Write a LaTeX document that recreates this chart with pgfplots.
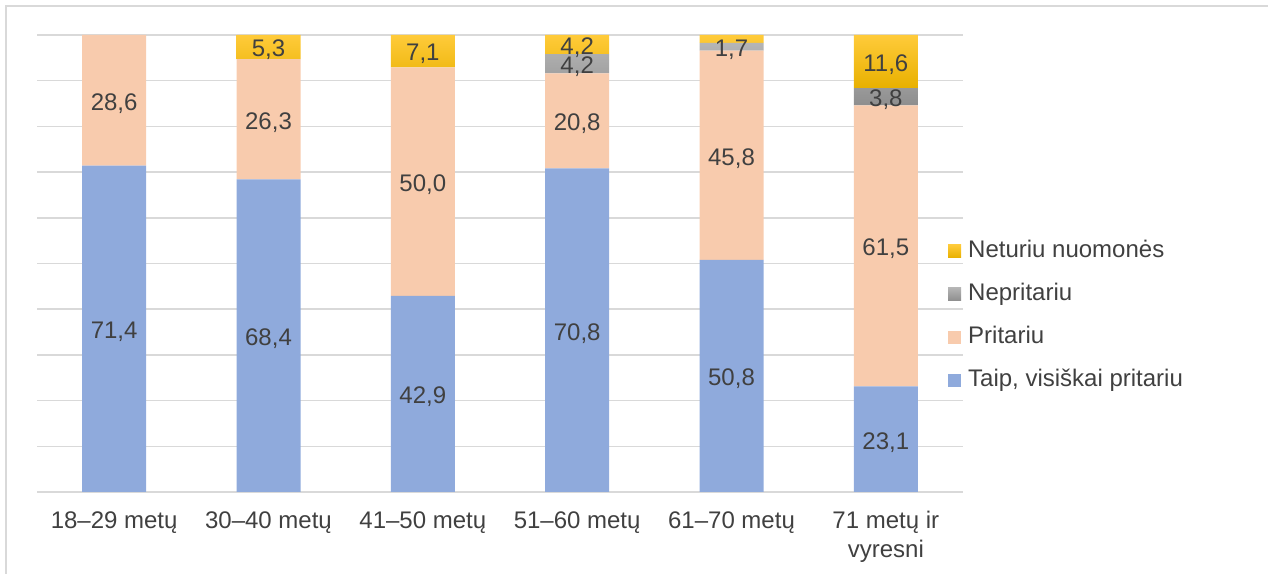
\documentclass[border=0pt]{standalone}
\usepackage{pgfplots}
\pgfplotsset{compat=1.18}
\usepackage{pgfplotstable}
\usepackage{fontspec}
\setmainfont{Liberation Sans}
\definecolor{cblue}{HTML}{8FAADC}
\definecolor{cpeach}{HTML}{F8CBAD}
\definecolor{ctext}{HTML}{404040}
\definecolor{cgrid}{HTML}{D9D9D9}
\definecolor{goldtop}{HTML}{FFCB3A}
\definecolor{goldbot}{HTML}{E8B000}
\definecolor{graytop}{HTML}{B5B5B5}
\definecolor{graybot}{HTML}{8E8E8E}
\newcommand{\lf}{\fontsize{24bp}{29bp}\selectfont}

\pgfplotstableread{
x y lbl
0 71.4 {71,4}
1 68.4 {68,4}
2 42.9 {42,9}
3 70.8 {70,8}
4 50.8 {50,8}
5 23.1 {23,1}
}\taip
\pgfplotstableread{
x y lbl
0 28.6 {28,6}
1 26.3 {26,3}
2 50.0 {50,0}
3 20.8 {20,8}
4 45.8 {45,8}
5 61.5 {61,5}
}\pritariu
\pgfplotstableread{
x y lbl
0 0 {}
1 0 {}
2 0 {}
3 4.2 {4,2}
4 1.7 {1,7}
5 3.8 {3,8}
}\nepritariu
\pgfplotstableread{
x y lbl
0 0 {}
1 5.3 {5,3}
2 7.1 {7,1}
3 4.2 {4,2}
4 1.7 {}
5 11.6 {11,6}
}\neturiu

\begin{document}
\begin{tikzpicture}
\useasboundingbox (0,0) rectangle (1268bp,574bp);
\draw[cgrid, line width=1.5bp] (6bp,-10bp) -- (6bp,568bp) -- (1290bp,568bp);
\begin{axis}[
  at={(37bp,82bp)}, anchor=south west,
  scale only axis, width=926bp, height=457bp,
  ybar stacked, bar width=64bp,
  xmin=-0.5, xmax=5.5, ymin=0, ymax=100,
  xtick=data,
  xticklabels={18–29 metų,30–40 metų,41–50 metų,51–60 metų,61–70 metų,{71 metų ir\\vyresni}},
  xticklabel style={font=\lf, text=ctext, align=center, yshift=-16bp},
  ytick={0,10,...,100}, yticklabels={},
  major tick length=0pt,
  ymajorgrids, grid style={cgrid, line width=1.5bp},
  axis line style={draw=none},
  point meta=explicit symbolic,
  nodes near coords,
  every node near coord/.append style={font=\lf, text=ctext, anchor=center, inner sep=0pt, yshift=-3bp},
  reverse legend,
  legend cell align=left,
  legend image code/.code={\path[#1,draw=none] (0bp,-6.5bp) rectangle (13bp,6.5bp);},
  legend style={at={(0.9838,0.5525)}, anchor=north west, draw=none, fill=none,
    font=\lf, text=ctext, inner sep=0pt, row sep=20bp,
    nodes={inner sep=0pt, text height=18bp, text depth=5bp},
    /tikz/every odd column/.append style={column sep=7bp}},
]
\addplot[draw=none, fill=cblue] table[x=x, y=y, meta=lbl] {\taip};
\addplot[draw=none, fill=cpeach] table[x=x, y=y, meta=lbl] {\pritariu};
\addplot[draw=none, top color=graytop, bottom color=graybot] table[x=x, y=y, meta=lbl] {\nepritariu};
\addplot[draw=none, top color=goldtop, bottom color=goldbot] table[x=x, y=y, meta=lbl] {\neturiu};
\legend{{Taip, visiškai pritariu},Pritariu,Nepritariu,Neturiu nuomonės}
\end{axis}
\end{tikzpicture}
\end{document}
